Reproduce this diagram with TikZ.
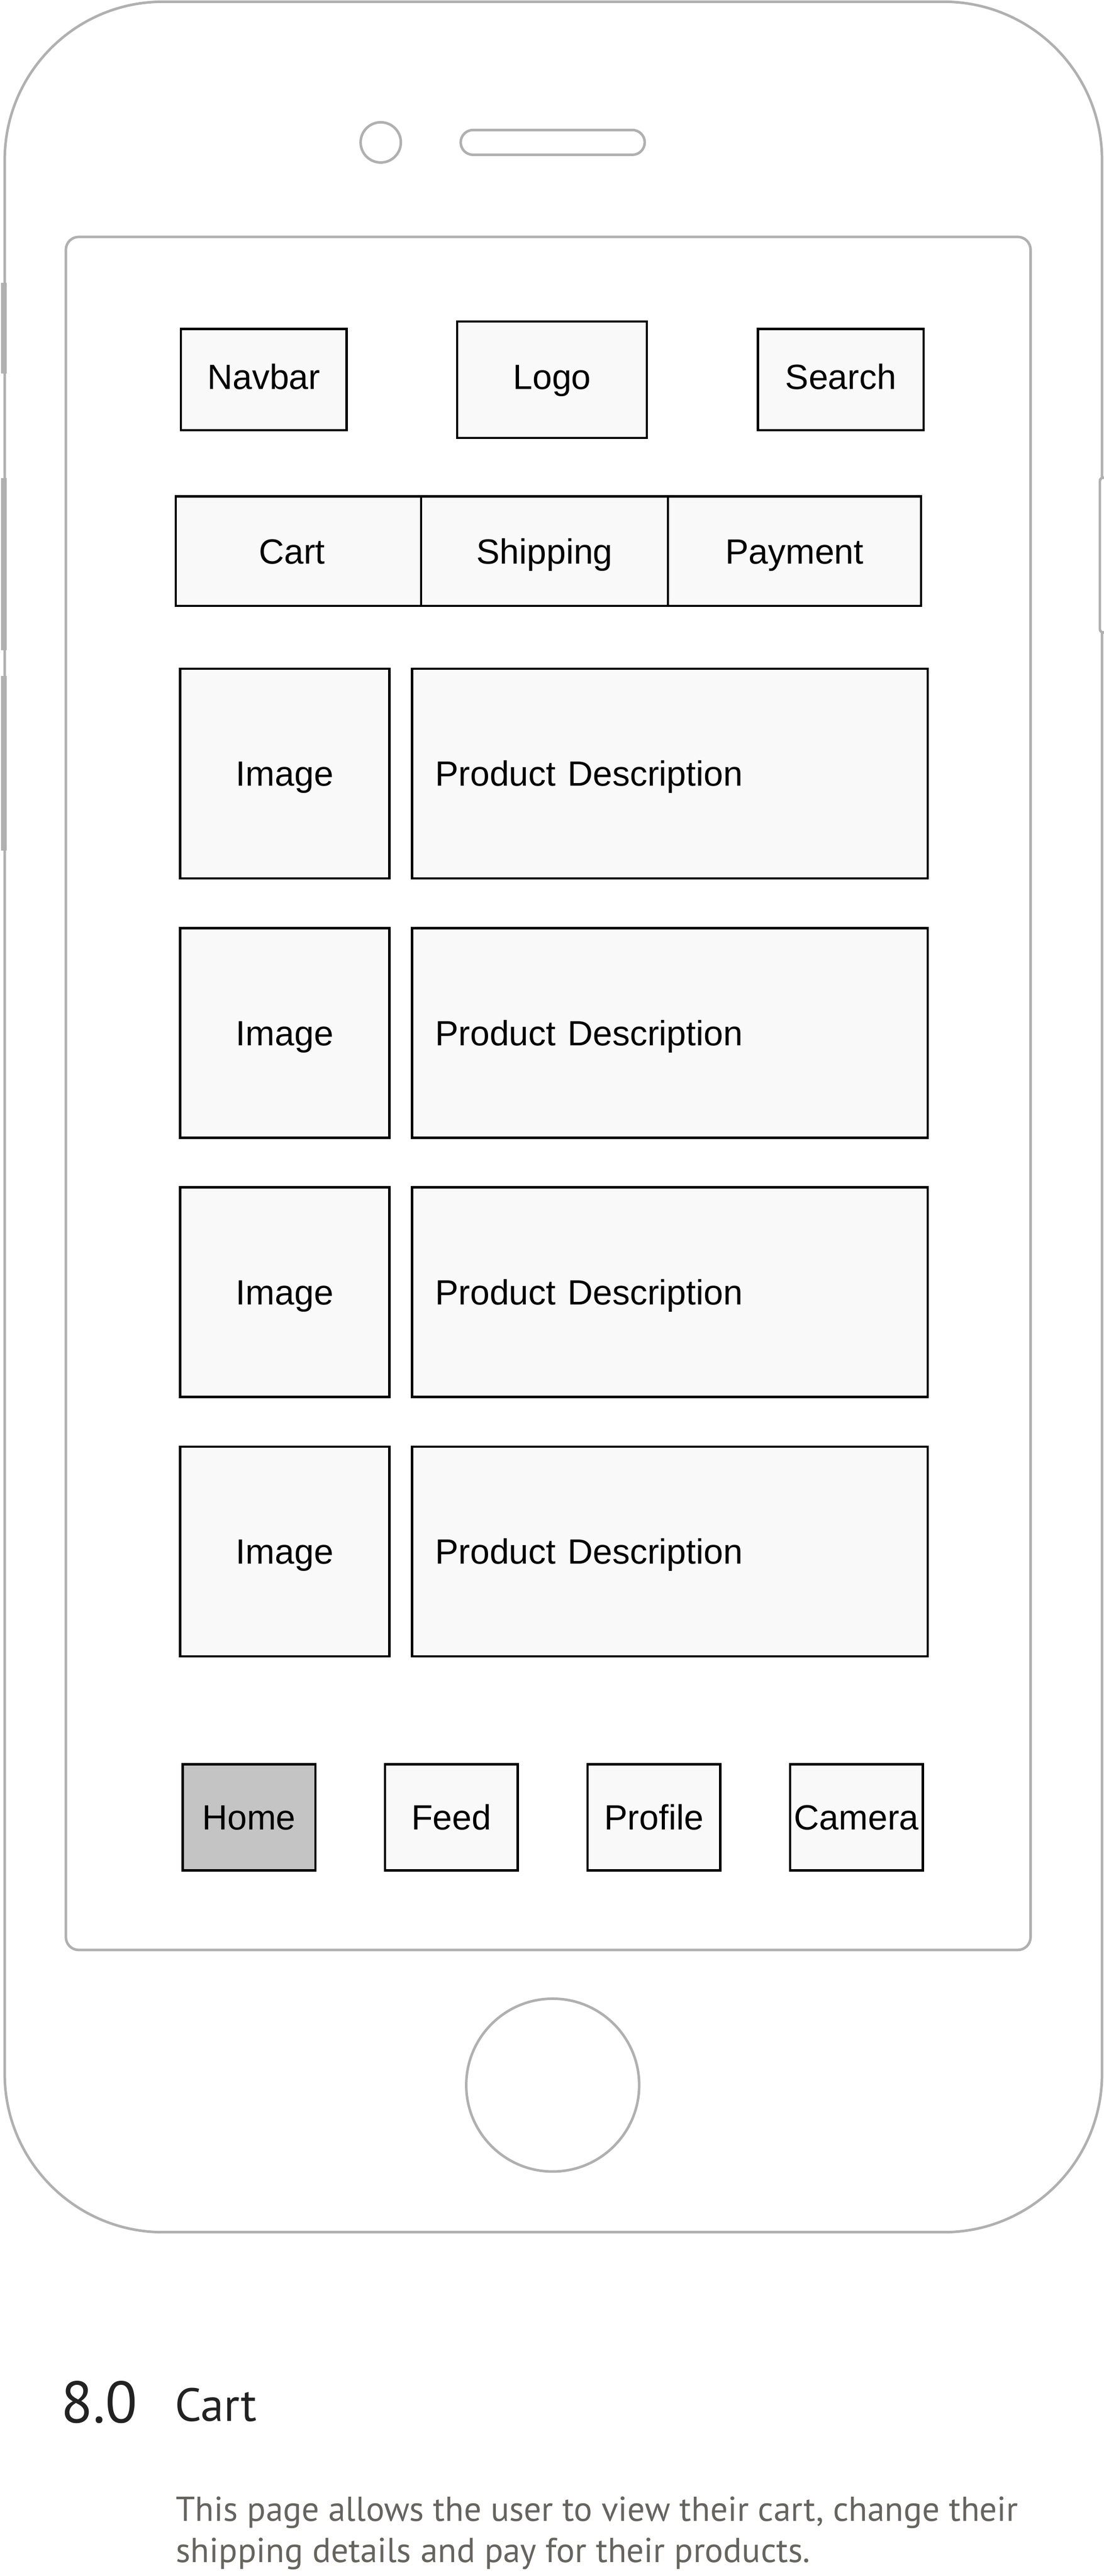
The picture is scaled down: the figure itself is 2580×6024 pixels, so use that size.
\documentclass[tikz,border=0pt]{standalone}
\usepackage{fontspec}
\setmainfont{Liberation Sans}
\newfontfamily\captionfont{PT Sans}
\usepackage{tikz}
\definecolor{phonegray}{HTML}{B0B0B0}
\definecolor{boxfill}{HTML}{F9F9F9}
\definecolor{activefill}{HTML}{C4C4C4}
\definecolor{captiongray}{HTML}{65645F}
\definecolor{headblack}{HTML}{222222}
\usetikzlibrary{positioning, shapes}
\tikzstyle{outline} = [draw=phonegray, line width=0.06cm]

\begin{document}
\begin{tikzpicture}[x=0.01cm, y=-0.01cm]
                    \tikzstyle{every node}=[font=\fontsize{23.3}{28}\selectfont]
                    \tikzstyle{widget} = [rectangle, draw=black, fill=boxfill, line width=0.055cm, inner sep=0pt, outer sep=0pt, text height=16.7pt, text depth=0pt]
                    \tikzstyle{topitem} = [widget, text depth=0.14cm]
                    \tikzstyle{active} = [widget, fill=activefill]
                    \tikzstyle{imagebox} = [widget, minimum width=4.89cm, minimum height=4.9cm]
                    \tikzstyle{descbox} = [widget, minimum width=12.05cm, minimum height=4.9cm, text width=10.97cm, inner xsep=0.54cm, align=left]
                    \tikzstyle{tab} = [widget, minimum height=2.56cm]
                    \tikzstyle{navitem} = [widget, minimum width=3.1cm, minimum height=2.48cm]
                    \tikzstyle{caption} = [anchor=base west, inner sep=0pt]

                    \useasboundingbox (0,0) rectangle (2580,6024);

                    \draw[outline, rounded corners=3.7cm] (11,4) rectangle (2576,5220);
                    \fill[phonegray] (3,661) rectangle (16,874);
                    \fill[phonegray] (3,1118) rectangle (16,1521);
                    \fill[phonegray] (3,1581) rectangle (16,1989);
                    \draw[outline, fill=white, rounded corners=0.08cm] (2571,1117) rectangle (2600,1479);
                    \draw[outline, rounded corners=0.3cm] (154,554) rectangle (2409,4560);

                    \node[circle, outline, minimum size=0.94cm, inner sep=0pt](lens) at (890,333) {};
                    \node[rectangle, rounded corners=0.29cm, outline, minimum width=4.3cm, minimum height=0.58cm, inner sep=0pt](speaker) at (1292,333) {};
                    \node[circle, outline, minimum size=4.04cm, inner sep=0pt](homekey) at (1292,4876) {};

                    \node[topitem, minimum width=3.87cm, minimum height=2.37cm](navbar) at (616.5,887.5) {Navbar};
                    \node[topitem, minimum width=4.43cm, minimum height=2.72cm](logo) at (1290.5,888) {Logo};
                    \node[topitem, minimum width=3.87cm, minimum height=2.37cm](search) at (1965.5,887.5) {Search};

                    \node[tab, minimum width=5.73cm](cart) at (697.5,1289) {\hspace*{-0.3cm}Cart};
                    \node[tab, minimum width=5.77cm, right=0pt of cart](shipping) {Shipping};
                    \node[tab, minimum width=5.91cm, right=0pt of shipping](payment) {Payment};

                    \node[imagebox](image1) at (665.5,1809) {Image};
                    \node[imagebox, below=1.16cm of image1](image2) {Image};
                    \node[imagebox, below=1.16cm of image2](image3) {Image};
                    \node[imagebox, below=1.16cm of image3](image4) {Image};
                    \node[descbox, right=0.53cm of image1](desc1) {Product Description};
                    \node[descbox, right=0.53cm of image2](desc2) {Product Description};
                    \node[descbox, right=0.53cm of image3](desc3) {Product Description};
                    \node[descbox, right=0.53cm of image4](desc4) {Product Description};

                    \node[active, minimum width=3.1cm, minimum height=2.48cm](home) at (582,4250) {Home};
                    \node[navitem, right=1.63cm of home](feed) {Feed};
                    \node[navitem, right=1.63cm of feed](profile) {Profile};
                    \node[navitem, right=1.63cm of profile](camera) {Camera};

                    \node[caption, text=headblack, font=\captionfont\fontsize{39}{41}\selectfont](number) at (142,5665) {8.0};
                    \node[caption, text=headblack, font=\captionfont\fontsize{31}{33}\selectfont](title) at (408,5662) {Cart};
                    \node[caption, text=captiongray, font=\captionfont\fontsize{23}{26}\selectfont](summary1) at (411,5896) {This page allows the user to view their cart, change their};
                    \node[caption, text=captiongray, font=\captionfont\fontsize{23}{26}\selectfont](summary2) at (411,5992) {shipping details and pay for their products.};
            \end{tikzpicture}
\end{document}
